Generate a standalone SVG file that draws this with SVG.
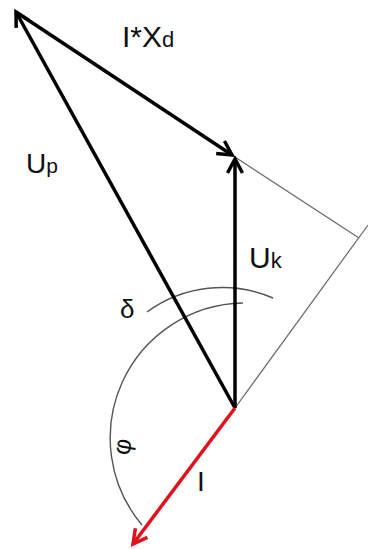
<svg xmlns="http://www.w3.org/2000/svg" width="368" height="549" viewBox="0 0 368 549">
<style>
.vec{stroke:#000;stroke-width:3.5;fill:none;stroke-linecap:butt}
.red{stroke:#e0121c;stroke-width:3.5;fill:none}
.thin{stroke:#6a6a6a;stroke-width:1.2;fill:none}
.arc{stroke:#555;stroke-width:1.4;fill:none}
text{font-family:"Liberation Sans",Arial,sans-serif;fill:#111}
</style>
<defs>
<marker id="ah" markerUnits="userSpaceOnUse" markerWidth="30" markerHeight="30" viewBox="-20 -15 30 30" refX="0" refY="0" orient="auto">
<path d="M-14,-7.5 L0,0 L-14,7.5" fill="none" stroke="#000" stroke-width="3.5" stroke-linejoin="miter"/>
</marker>
<marker id="ahr" markerUnits="userSpaceOnUse" markerWidth="30" markerHeight="30" viewBox="-20 -15 30 30" refX="0" refY="0" orient="auto">
<path d="M-14,-7.5 L0,0 L-14,7.5" fill="none" stroke="#e0121c" stroke-width="3.5" stroke-linejoin="miter"/>
</marker>
</defs>
<rect width="368" height="549" fill="#fff"/>
<g id="connectors">
<path class="thin" d="M235,157 L359,238"/>
<path class="thin" d="M235,408 L368,225"/>
<path class="arc" d="M147,312 A128,128 0 0 1 273,298"/>
<path class="arc" d="M243,303 A135,135 0 0 0 142,525"/>
<path id="Up" class="vec" d="M235,408 L16,12" marker-end="url(#ah)"/>
<path id="IXd" class="vec" d="M16,12 L232,155" marker-end="url(#ah)"/>
<path id="Uk" class="vec" d="M235,408 L235,159" marker-end="url(#ah)"/>
<path id="I" class="red" d="M235,408 L133,544" marker-end="url(#ahr)"/>
</g>
<g id="label-IXd"><text x="122" y="47" font-size="30">I*X<tspan font-size="22">d</tspan></text></g>
<g id="label-Up"><text x="26" y="173" font-size="28">U<tspan font-size="21">p</tspan></text></g>
<g id="label-Uk"><text x="249" y="268" font-size="30">U<tspan font-size="22">k</tspan></text></g>
<g id="label-delta"><text x="120" y="318" font-size="26">δ</text></g>
<g id="label-phi"><text x="0" y="0" font-size="25" transform="translate(129,456) rotate(-80)">φ</text></g>
<g id="label-I"><text x="197" y="491" font-size="28">I</text></g>
</svg>
